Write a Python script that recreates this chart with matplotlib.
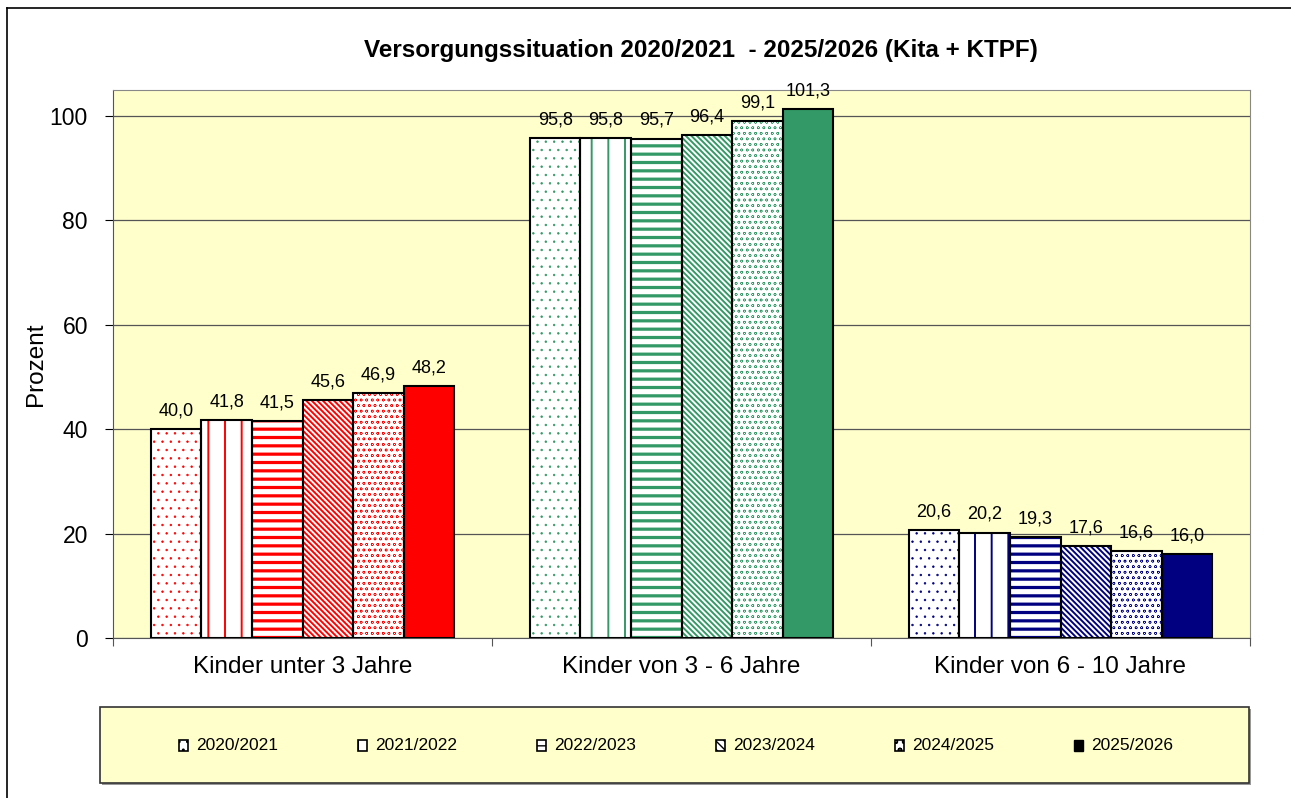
import matplotlib
matplotlib.use('Agg')
import matplotlib.pyplot as plt
from matplotlib.patches import Rectangle
from matplotlib.lines import Line2D
import numpy as np

plt.rcParams['font.family'] = ['Liberation Sans', 'DejaVu Sans']

categories = ['Kinder unter 3 Jahre', 'Kinder von 3 - 6 Jahre', 'Kinder von 6 - 10 Jahre']
years = ['2020/2021', '2021/2022', '2022/2023', '2023/2024', '2024/2025', '2025/2026']
values = [
    [40.0, 95.8, 20.6],
    [41.8, 95.8, 20.2],
    [41.5, 95.7, 19.3],
    [45.6, 96.4, 17.6],
    [46.9, 99.1, 16.6],
    [48.2, 101.3, 16.0],
]
group_colors = ['#FF0000', '#339966', '#000080']
hatches = ['..', '|', '--', '\\\\\\\\\\\\', 'ooo', None]
hatch_lw = [0.5, 1.4, 2.3, 1.4, 0.35, 1.0]
legend_hatches = ['..', '|', '--', '\\\\\\\\', 'oo', None]

fig = plt.figure(figsize=(12.91, 7.98), dpi=100)
ax = fig.add_axes([113/1291, 1-638/798, (1250-113)/1291, (638-90)/798])
ax.set_facecolor('#FFFFCC')

x = np.arange(len(categories))
width = 0.8 / len(years)

for i, yr in enumerate(years):
    pos = x - 0.4 + width * (i + 0.5)
    for j in range(len(categories)):
        col = group_colors[j]
        v = values[i][j]
        if hatches[i] is None:
            ax.bar(pos[j], v, width, color=col, edgecolor='black', linewidth=1.5, zorder=3)
        else:
            with plt.rc_context({'hatch.linewidth': hatch_lw[i]}):
                ax.bar(pos[j], v, width, facecolor='white', edgecolor=col,
                       hatch=hatches[i], linewidth=0, zorder=3)
            ax.bar(pos[j], v, width, facecolor='none', edgecolor='black', linewidth=1.5, zorder=4)
        ax.annotate(('%.1f' % v).replace('.', ','), (pos[j], v), xytext=(0, 7),
                    textcoords='offset points', ha='center', va='bottom', fontsize=13, zorder=5)

ax.set_xlim(-0.5, 2.5)
ax.set_ylim(0, 105)
ax.set_yticks([0, 20, 40, 60, 80, 100])
ax.tick_params(axis='y', labelsize=16.5, length=6, direction='out', pad=12)
ax.yaxis.grid(True, color='#555555', linewidth=0.9, zorder=1)
ax.set_axisbelow(True)
ax.set_xticks([-0.5, 0.5, 1.5, 2.5])
ax.set_xticklabels([])
ax.tick_params(axis='x', length=6, direction='out', color='#555555')
for j, c in enumerate(categories):
    ax.text(x[j], -3.4, c, ha='center', va='top', fontsize=17.5)
ax.set_ylabel('Prozent', fontsize=17.5, labelpad=2)
for s in ['top', 'right']:
    ax.spines[s].set_color('#888888')
ax.spines['left'].set_color('#555555')
ax.spines['bottom'].set_color('#555555')

fig.text(701/1291, 1-50/798, 'Versorgungssituation 2020/2021  - 2025/2026 (Kita + KTPF)',
         ha='center', va='center', fontsize=17.5, fontweight='bold')

# outer frame (left and top only visible)
fig.add_artist(Line2D([7/1291, 7/1291], [0, 1-8/798], transform=fig.transFigure, color='black', lw=1.2))
fig.add_artist(Line2D([7/1291, 1], [1-8/798, 1-8/798], transform=fig.transFigure, color='black', lw=1.2))

# legend box
lx0, ly0, lx1, ly1 = 100/1291, 1-783/798, 1249/1291, 1-707/798
fig.add_artist(Rectangle((lx0 + 2/1291, ly0 - 2/798), lx1 - lx0, ly1 - ly0, transform=fig.transFigure,
                         facecolor='#999999', edgecolor='none'))
fig.add_artist(Rectangle((lx0, ly0), lx1 - lx0, ly1 - ly0, transform=fig.transFigure,
                         facecolor='#FFFFCC', edgecolor='#333333', lw=1.2))
leg_x = [183, 362, 541, 720, 899, 1078]
for i, yr in enumerate(years):
    cx = leg_x[i] / 1291
    cy = 1 - 745/798
    sw, sh = 9/1291, 11/798
    if legend_hatches[i] is None:
        fig.add_artist(Rectangle((cx - sw/2, cy - sh/2), sw, sh, transform=fig.transFigure,
                                 facecolor='black', edgecolor='black', lw=1))
    else:
        with plt.rc_context({'hatch.linewidth': 1.0}):
            fig.add_artist(Rectangle((cx - sw/2, cy - sh/2), sw, sh, transform=fig.transFigure,
                                     facecolor='white', edgecolor='black', hatch=legend_hatches[i], lw=1.2))
    fig.text(cx + 13/1291, cy, yr, ha='left', va='center', fontsize=12.5)

fig.savefig('out.png', dpi=100)
